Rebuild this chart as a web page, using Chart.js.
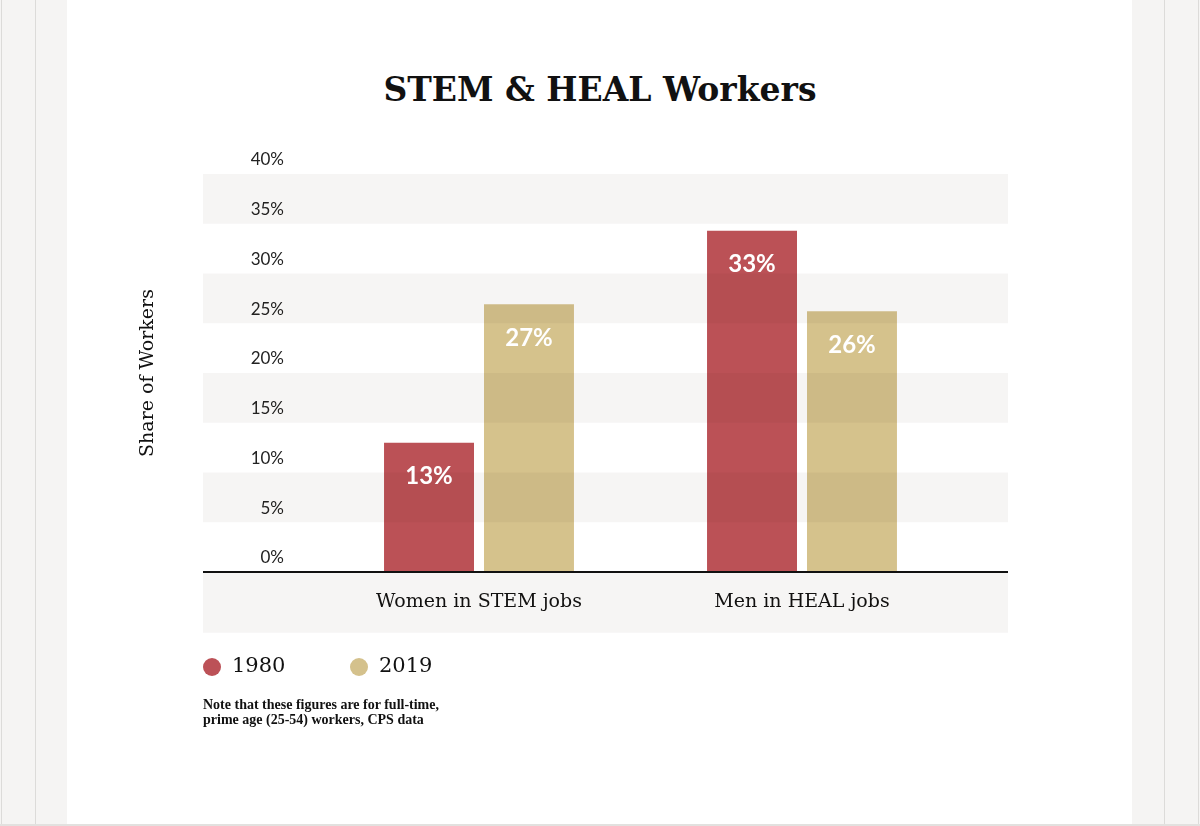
<!DOCTYPE html>
<html>
<head>
<meta charset="utf-8">
<script src="https://cdn.jsdelivr.net/npm/chart.js@4.4.1/dist/chart.umd.min.js"></script>
<style>
  html, body { margin: 0; padding: 0; }
  body { width: 1200px; height: 826px; position: relative; background: #f5f4f3; overflow: hidden; }
  .edge { position: absolute; top: 0; bottom: 0; width: 1px; background: #dcdbd9; }
  #panel { position: absolute; left: 67px; width: 1065px; top: 0; height: 824px; background: #fff; }
  #bottomline { position: absolute; left: 0; right: 0; top: 824px; height: 2px; background: #e2e1df; }
  #chart { position: absolute; left: 0; top: 0; }
  #title { position: absolute; left: 0; width: 1200px; top: 70px; line-height: 44px; text-align: center;
           font: bold 33px "DejaVu Serif", serif; color: #111; }
  .legend { position: absolute; top: 653px; line-height: 28px; font: 21px "DejaVu Serif", serif; color: #111; }
  .legend i { position: absolute; left: 0; top: 5px; width: 18px; height: 18px; border-radius: 50%; }
  .legend span { position: absolute; left: 29px; top: 0; white-space: nowrap; }
  #note { position: absolute; left: 203px; top: 697px; font: bold 14px "Liberation Serif", serif; line-height: 15px; color: #111; }
</style>
</head>
<body>
<div class="edge" style="left:1px"></div>
<div class="edge" style="left:35px"></div>
<div id="panel"></div>
<div class="edge" style="left:1164px"></div>
<div class="edge" style="left:1198px"></div>
<div id="bottomline"></div>
<div id="title">STEM &amp; HEAL Workers</div>
<canvas id="chart" width="1200" height="826"></canvas>
<div id="legend"></div>
<div id="note">Note that these figures are for full-time,<br>prime age (25-54) workers, CPS data</div>
<script>
// ---------- DATA ----------
const categories = ["Women in STEM jobs", "Men in HEAL jobs"];
const years = ["1980", "2019"];
const share1980 = [13, 34.3];
const share2019 = [26.9, 26.2];
const labels1980 = ["13%", "33%"];
const labels2019 = ["27%", "26%"];
const yMin = 0, yMax = 40, yStep = 5;

const colors = ["rgba(180,62,68,0.9)", "rgba(208,187,128,0.9)"];
const legendColors = ["#bc5157", "#d4c18c"];

// band extent (page px) around the plot
const BAND_LEFT = 203, BAND_RIGHT = 1008;

// ---------- LEGEND ----------
const legendDiv = document.getElementById("legend");
const legendX = [203, 350];
years.forEach((yr, i) => {
  const item = document.createElement("div");
  item.className = "legend";
  item.style.left = legendX[i] + "px";
  item.innerHTML = `<i style="background:${legendColors[i]}"></i><span>${yr}</span>`;
  legendDiv.appendChild(item);
});

// ---------- PLUGINS ----------
const bands = {
  id: "bands",
  afterDatasetsDraw(chart) {
    const { ctx, chartArea, scales: { x, y } } = chart;
    ctx.save();
    ctx.fillStyle = "rgba(40,25,10,0.045)";
    const t = y.ticks;
    for (let i = 1; i < t.length - 1; i += 2) {
      const top = y.getPixelForValue(t[i + 1].value);
      const bot = y.getPixelForValue(t[i].value);
      ctx.fillRect(BAND_LEFT, top, BAND_RIGHT - BAND_LEFT, bot - top);
    }
    ctx.fillRect(BAND_LEFT, chartArea.bottom + 1, BAND_RIGHT - BAND_LEFT, x.bottom - chartArea.bottom - 1);
    // baseline across the whole band width
    const base = y.getPixelForValue(yMin);
    ctx.strokeStyle = "#111";
    ctx.lineWidth = 2;
    ctx.beginPath();
    ctx.moveTo(BAND_LEFT, base);
    ctx.lineTo(BAND_RIGHT, base);
    ctx.stroke();
    ctx.restore();
  }
};

const barLabels = {
  id: "barLabels",
  afterDraw(chart) {
    const ctx = chart.ctx;
    const texts = [labels1980, labels2019];
    ctx.save();
    ctx.fillStyle = "#fff";
    ctx.font = "bold 24px Lato";
    ctx.textAlign = "center";
    ctx.textBaseline = "middle";
    chart.data.datasets.forEach((ds, di) => {
      chart.getDatasetMeta(di).data.forEach((bar, i) => {
        ctx.fillText(texts[di][i], bar.x, bar.y + 34);
      });
    });
    ctx.restore();
  }
};

// ---------- CHART ----------
new Chart(document.getElementById("chart"), {
  type: "bar",
  data: {
    labels: categories,
    datasets: [
      { label: years[0], data: share1980, backgroundColor: colors[0] },
      { label: years[1], data: share2019, backgroundColor: colors[1] }
    ]
  },
  options: {
    responsive: false,
    animation: false,
    categoryPercentage: 0.619,
    barPercentage: 0.9,
    layout: { padding: { left: 132.5, right: 236.5, top: 174, bottom: 193.2 } },
    plugins: {
      legend: { display: false },
      tooltip: { enabled: false }
    },
    scales: {
      x: {
        grid: { display: false, drawTicks: false },
        border: { display: false },
        ticks: { color: "#111", padding: 19, font: { family: "DejaVu Serif", size: 19 } }
      },
      y: {
        min: yMin,
        max: yMax,
        grid: { display: false, drawTicks: false },
        border: { display: false },
        ticks: {
          stepSize: yStep,
          padding: 33.5,
          labelOffset: -14,
          color: "#222",
          font: { family: "Lato", size: 17 },
          callback: v => v + "%"
        },
        title: {
          display: true,
          text: "Share of Workers",
          color: "#111",
          font: { family: "DejaVu Serif", size: 19 },
          padding: { top: 4, bottom: 58 }
        },
        afterFit(scale) { scale.width = 185; }
      }
    }
  },
  plugins: [bands, barLabels]
});
</script>
</body>
</html>
